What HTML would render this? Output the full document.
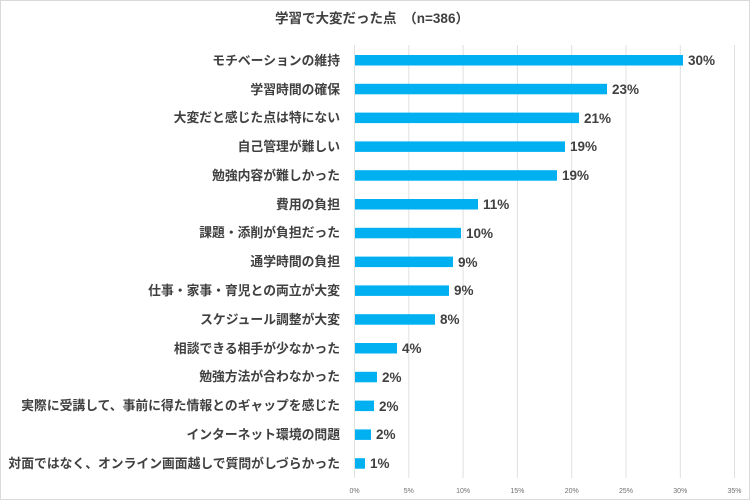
<!DOCTYPE html>
<html><head><meta charset="utf-8"><style>
html,body{margin:0;padding:0;background:#fff}
svg{display:block}
text{font-family:"Liberation Sans","Noto Sans CJK JP",sans-serif}
</style></head><body>
<svg width="750" height="500" viewBox="0 0 750 500">
<rect x="0.5" y="0.5" width="749" height="499" fill="#fff" stroke="#d9d9d9"/>
<text x="372" y="23" text-anchor="middle" font-size="13.5" font-weight="bold" fill="#404040">学習で大変だった点　（n=386）</text>
<g stroke="#e0e0e0" stroke-width="1">
<line x1="354.5" y1="45" x2="354.5" y2="478"/>
<line x1="408.8" y1="45" x2="408.8" y2="478"/>
<line x1="463.1" y1="45" x2="463.1" y2="478"/>
<line x1="517.4" y1="45" x2="517.4" y2="478"/>
<line x1="571.7" y1="45" x2="571.7" y2="478"/>
<line x1="626" y1="45" x2="626" y2="478"/>
<line x1="680.3" y1="45" x2="680.3" y2="478"/>
<line x1="734.5" y1="45" x2="734.5" y2="478"/>
</g>
<g font-size="7" fill="#707070" text-anchor="middle">
<text x="354.5" y="493">0%</text><text x="408.8" y="493">5%</text><text x="463.1" y="493">10%</text><text x="517.4" y="493">15%</text><text x="571.7" y="493">20%</text><text x="626" y="493">25%</text><text x="680.3" y="493">30%</text><text x="734.5" y="493">35%</text>
</g>
<g fill="#00b0f0">
<rect x="355" y="55" width="328" height="10.5"/>
<rect x="355" y="83.8" width="252" height="10.5"/>
<rect x="355" y="112.6" width="224" height="10.5"/>
<rect x="355" y="141.4" width="210" height="10.5"/>
<rect x="355" y="170.2" width="202" height="10.5"/>
<rect x="355" y="199" width="123" height="10.5"/>
<rect x="355" y="227.8" width="106" height="10.5"/>
<rect x="355" y="256.6" width="98" height="10.5"/>
<rect x="355" y="285.4" width="94" height="10.5"/>
<rect x="355" y="314.2" width="80" height="10.5"/>
<rect x="355" y="343" width="42" height="10.5"/>
<rect x="355" y="371.8" width="22" height="10.5"/>
<rect x="355" y="400.6" width="19" height="10.5"/>
<rect x="355" y="429.4" width="16" height="10.5"/>
<rect x="355" y="458.2" width="10" height="10.5"/>
</g>
<g font-size="13.5" font-weight="bold" fill="#404040">
<text x="688" y="65">30%</text>
<text x="612" y="94">23%</text>
<text x="584" y="123">21%</text>
<text x="570" y="151">19%</text>
<text x="562" y="180">19%</text>
<text x="483" y="209">11%</text>
<text x="466" y="238">10%</text>
<text x="458" y="267">9%</text>
<text x="454" y="295">9%</text>
<text x="440" y="324">8%</text>
<text x="402" y="353">4%</text>
<text x="382" y="382">2%</text>
<text x="379" y="411">2%</text>
<text x="376" y="439">2%</text>
<text x="370" y="468">1%</text>
</g>
<g font-size="12.8" font-weight="bold" fill="#404040" text-anchor="end">
<text x="340" y="65">モチベーションの維持</text>
<text x="340" y="94">学習時間の確保</text>
<text x="340" y="122">大変だと感じた点は特にない</text>
<text x="340" y="151">自己管理が難しい</text>
<text x="340" y="180">勉強内容が難しかった</text>
<text x="340" y="209">費用の負担</text>
<text x="340" y="237">課題・添削が負担だった</text>
<text x="340" y="266">通学時間の負担</text>
<text x="340" y="295">仕事・家事・育児との両立が大変</text>
<text x="340" y="324">スケジュール調整が大変</text>
<text x="340" y="353">相談できる相手が少なかった</text>
<text x="340" y="381">勉強方法が合わなかった</text>
<text x="340" y="410">実際に受講して、事前に得た情報とのギャップを感じた</text>
<text x="340" y="439">インターネット環境の問題</text>
<text x="340" y="468">対面ではなく、オンライン画面越しで質問がしづらかった</text>
</g>
</svg>
</body></html>
